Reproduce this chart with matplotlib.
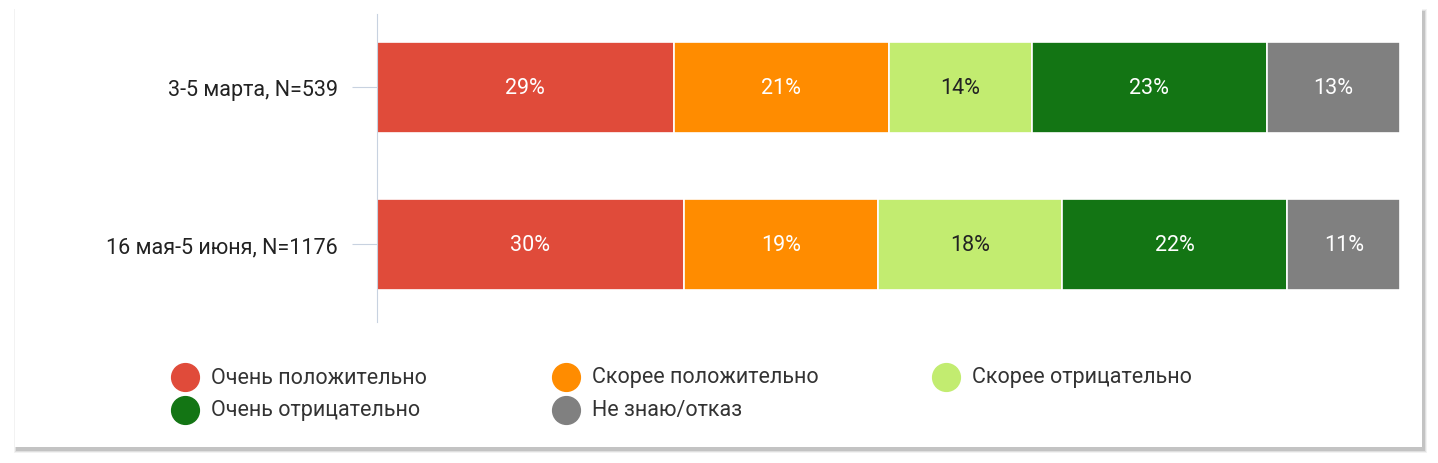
import matplotlib
matplotlib.use("Agg")
import matplotlib.pyplot as plt
from matplotlib.patches import Rectangle

rows = ["3-5 марта, N=539", "16 мая-5 июня, N=1176"]
categories = ["Очень положительно", "Скорее положительно", "Скорее отрицательно",
              "Очень отрицательно", "Не знаю/отказ"]
values = [[29, 21, 14, 23, 13],
          [30, 19, 18, 22, 11]]
colors = ["#E04B3A", "#FF8C00", "#C2EC70", "#137514", "#808080"]
text_colors = ["white", "white", "#222222", "white", "white"]

plt.rcParams['font.family'] = ['Roboto', 'DejaVu Sans']
W, H = 1438, 464
fig = plt.figure(figsize=(W/100, H/100), dpi=100)
for i, a in enumerate([0.05, 0.08, 0.12]):
    d = 3 - i
    fig.patches.append(Rectangle(((15-d+2)/W, (16-d-3)/H), (1407+2*d)/W, (438+2*d)/H,
                                 transform=fig.transFigure, color="black", alpha=a, zorder=0, lw=0))
fig.patches.append(Rectangle((15/W, 16/H), 1407/W, 438/H, transform=fig.transFigure,
                             color="white", zorder=1, lw=0))

ax = fig.add_axes([377/W, 1-323/H, 1023/W, 308/H])
ax.set_zorder(2)
ax.patch.set_visible(False)
for r, row in enumerate(values):
    left = 0
    for c, v in enumerate(row):
        ax.barh(r, v, left=left, height=0.58, color=colors[c], edgecolor="white", linewidth=1.2)
        ax.text(left + v/2, r, f"{v}%", ha="center", va="center", fontsize=15.5, color=text_colors[c])
        left += v
ax.set_xlim(0, 100)
ax.set_ylim(1.495, -0.465)
ax.set_yticks(range(len(rows)))
ax.set_yticklabels(rows, fontsize=15.5, color="#222222")
ax.tick_params(axis="y", length=18, color="#C8D2E0", pad=10)
ax.set_xticks([])
for s in ["top", "right", "bottom"]:
    ax.spines[s].set_visible(False)
ax.spines["left"].set_color("#C8D2E0")

# legend, laid out row-wise in 3 columns
col_x = [185, 566, 946]
row_y = [378, 411]
for i, (lab, col) in enumerate(zip(categories, colors)):
    x, y = col_x[i % 3], row_y[i // 3]
    fig.lines.append(plt.Line2D([x/W], [1-y/H], marker="o", markersize=20, color=col,
                                transform=fig.transFigure, zorder=3))
    fig.text((x+26)/W, 1-y/H, lab, fontsize=15.5, color="#333333", va="center", zorder=3)
fig.savefig("out.png", dpi=100)
